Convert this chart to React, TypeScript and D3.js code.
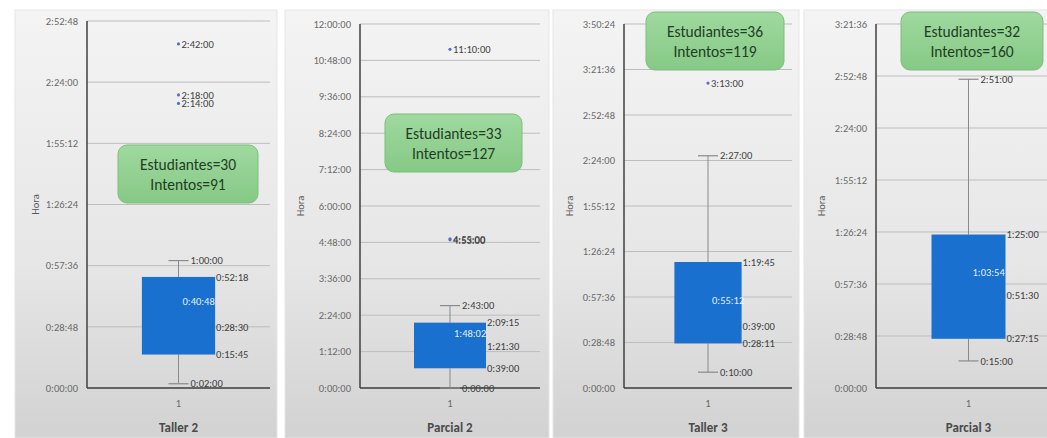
import React from "react";
import * as d3 from "d3";

// ---- data ----
const CATEGORIES = ["Taller 2", "Parcial 2", "Taller 3", "Parcial 3"];
const Q1 = ["0:15:45", "0:39:00", "0:28:11", "0:27:15"];
const MEDIAN = ["0:28:30", "1:21:30", "0:39:00", "0:51:30"];
const Q3 = ["0:52:18", "2:09:15", "1:19:45", "1:25:00"];
const MEAN = ["0:40:48", "1:48:02", "0:55:12", "1:03:54"];
const WHISKER_LOW = ["0:02:00", "0:00:00", "0:10:00", "0:15:00"];
const WHISKER_HIGH = ["1:00:00", "2:43:00", "2:27:00", "2:51:00"];
const OUTLIERS = [
  ["2:42:00", "2:18:00", "2:14:00"],
  ["11:10:00", "4:55:00", "4:53:00"],
  ["3:13:00"],
  [],
];
const Y_MAX = ["2:52:48", "12:00:00", "3:50:24", "3:21:36"];
const Y_STEP = ["0:28:48", "1:12:00", "0:28:48", "0:28:48"];
const STUDENTS = [30, 33, 36, 32];
const ATTEMPTS = [91, 127, 119, 160];
const X_TICK = ["1"];
const Y_TITLE = "Hora";

// ---- layout ----
const W = 1047;
const H = 438;
const BOTTOM = 388;
const LAYOUT = [
  { x0: 15, x1: 277, axisX: 87, right: 270, top: 21, hora: 35, note: { x: 118, y: 145, w: 140, h: 58 } },
  { x0: 285, x1: 549, axisX: 360, right: 540, top: 24, hora: 300, note: { x: 385, y: 114, w: 137, h: 58 } },
  { x0: 553, x1: 799, axisX: 624, right: 792, top: 24, hora: 569, note: { x: 646, y: 12, w: 138, h: 58 } },
  { x0: 804, x1: 1060, axisX: 876, right: 1061, top: 24, hora: 821, note: { x: 901, y: 12, w: 142, h: 58 } },
];

const FONT = "Carlito, Lato, 'Liberation Sans', sans-serif";
const BOX_FILL = "#1a70cf";
const WHISKER = "#8a8a8a";

const hms = (s: string) => {
  const [h, m, sec] = s.split(":").map(Number);
  return h * 3600 + m * 60 + sec;
};
const fmt = (v: number) => {
  const h = Math.floor(v / 3600);
  const m = Math.floor((v % 3600) / 60);
  const s = Math.round(v % 60);
  return `${h}:${String(m).padStart(2, "0")}:${String(s).padStart(2, "0")}`;
};

function Panel({ i }: { i: number }) {
  const L = LAYOUT[i];
  const max = hms(Y_MAX[i]);
  const step = hms(Y_STEP[i]);
  const y = d3.scaleLinear().domain([0, max]).range([BOTTOM, L.top]);
  const ticks = d3.range(0, max + 1, step);
  const x = d3.scaleBand().domain(X_TICK).range([L.axisX, L.right]).paddingInner(0).paddingOuter(0.75);
  const bx = x(X_TICK[0]) as number;
  const bw = x.bandwidth();
  const cx = bx + bw / 2;
  const q1 = hms(Q1[i]);
  const q3 = hms(Q3[i]);
  const med = hms(MEDIAN[i]);
  const mean = hms(MEAN[i]);
  const lo = hms(WHISKER_LOW[i]);
  const hi = hms(WHISKER_HIGH[i]);
  const labelStyle = { fontFamily: FONT, fontSize: 10.5, fill: "#404040" } as const;
  const n = L.note;
  return (
    <g>
      <rect x={L.x0} y={10} width={L.x1 - L.x0} height={H - 10} fill="url(#bg)" stroke="#e6e6e6" strokeWidth={1} />
      {/* gridlines + tick labels */}
      {ticks.map((t) => (
        <g key={t}>
          <line x1={L.axisX} x2={L.right} y1={y(t)} y2={y(t)} stroke="#bdbdbd" strokeWidth={1} />
          <text x={L.axisX - 9} y={y(t)} dy="0.35em" textAnchor="end" fontFamily={FONT} fontSize={10.5} fill="#6a6a6a">
            {fmt(t)}
          </text>
        </g>
      ))}
      {/* axes */}
      <line x1={L.axisX} x2={L.axisX} y1={L.top} y2={BOTTOM} stroke="#404040" strokeWidth={1.5} />
      <line x1={L.axisX} x2={L.right} y1={BOTTOM} y2={BOTTOM} stroke="#404040" strokeWidth={1.5} />
      <text
        transform={`translate(${L.hora},${(L.top + BOTTOM) / 2}) rotate(-90)`}
        textAnchor="middle"
        dy="0.35em"
        fontFamily={FONT}
        fontSize={10.5}
        fill="#595959"
      >
        {Y_TITLE}
      </text>
      <text x={cx} y={403} textAnchor="middle" dy="0.35em" fontFamily={FONT} fontSize={10.5} fill="#6a6a6a">
        {X_TICK[0]}
      </text>
      <text x={cx} y={427} textAnchor="middle" dy="0.35em" fontFamily={FONT} fontSize={13} fontWeight={700} fill="#4a4a4a">
        {CATEGORIES[i]}
      </text>
      {/* whiskers */}
      <line x1={cx} x2={cx} y1={y(q3)} y2={y(hi)} stroke={WHISKER} strokeWidth={1} />
      <line x1={cx} x2={cx} y1={y(q1)} y2={y(lo)} stroke={WHISKER} strokeWidth={1} />
      <line x1={cx - 10} x2={cx + 10} y1={y(hi)} y2={y(hi)} stroke={WHISKER} strokeWidth={1.2} />
      <line x1={cx - 10} x2={cx + 10} y1={y(lo)} y2={y(lo)} stroke={WHISKER} strokeWidth={1.2} />
      {/* box */}
      <rect x={bx} y={y(q3)} width={bw} height={y(q1) - y(q3)} fill={BOX_FILL} />
      {/* labels */}
      <text x={bx + bw + 1} y={y(q3)} dy="0.35em" {...labelStyle}>{Q3[i]}</text>
      <text x={bx + bw + 1} y={y(med)} dy="0.35em" {...labelStyle}>{MEDIAN[i]}</text>
      <text x={bx + bw + 1} y={y(q1)} dy="0.35em" {...labelStyle}>{Q1[i]}</text>
      <text x={cx + 12} y={y(hi)} dy="0.35em" {...labelStyle}>{WHISKER_HIGH[i]}</text>
      <text x={cx + 12} y={y(lo)} dy="0.35em" {...labelStyle}>{WHISKER_LOW[i]}</text>
      <text x={cx + 4} y={y(mean)} dy="0.35em" fontFamily={FONT} fontSize={10.5} fill="#ffffff" fillOpacity={0.92}>
        {MEAN[i]}
      </text>
      {OUTLIERS[i].map((o, k) => (
        <g key={k}>
          <circle cx={cx} cy={y(hms(o))} r={1.6} fill="#4f74c8" />
          <text x={cx + 3} y={y(hms(o))} dy="0.35em" {...labelStyle}>{o}</text>
        </g>
      ))}
      {/* annotation */}
      <rect x={n.x} y={n.y} width={n.w} height={n.h} rx={9} fill="url(#green)" stroke="#7dbf7d" strokeWidth={1} />
      <text x={n.x + n.w / 2} y={n.y + n.h / 2 - 9} textAnchor="middle" dy="0.35em" fontFamily={FONT} fontSize={15.5} fill="#233d23">
        {`Estudiantes=${STUDENTS[i]}`}
      </text>
      <text x={n.x + n.w / 2} y={n.y + n.h / 2 + 11} textAnchor="middle" dy="0.35em" fontFamily={FONT} fontSize={15.5} fill="#233d23">
        {`Intentos=${ATTEMPTS[i]}`}
      </text>
    </g>
  );
}

export default function App() {
  return (
    <svg width={W} height={H} style={{ position: "absolute", left: 0, top: 0, background: "#ffffff" }}>
      <defs>
        <linearGradient id="bg" x1="0" y1="0" x2="0" y2="1">
          <stop offset="0" stopColor="#f4f4f4" />
          <stop offset="0.6" stopColor="#e6e6e6" />
          <stop offset="1" stopColor="#d2d2d2" />
        </linearGradient>
        <linearGradient id="green" x1="0" y1="0" x2="0" y2="1">
          <stop offset="0" stopColor="#9fd99f" />
          <stop offset="1" stopColor="#86c986" />
        </linearGradient>
      </defs>
      {CATEGORIES.map((_, i) => (
        <Panel key={i} i={i} />
      ))}
    </svg>
  );
}
